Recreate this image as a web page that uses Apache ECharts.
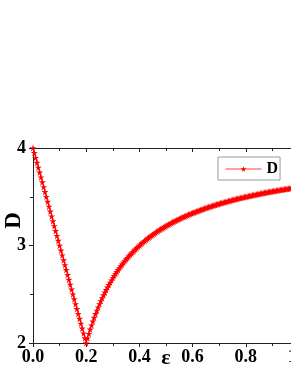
<!DOCTYPE html>
<html><head><meta charset="utf-8">
<script src="https://cdn.jsdelivr.net/npm/echarts@6/dist/echarts.min.js"></script>
<style>html,body{margin:0;padding:0;background:#fff}#c{width:291px;height:376px}</style>
</head><body><div id="c"></div>
<script>
var eps = [
0,0.005,0.01,0.015,0.02,0.025,0.03,0.035,0.04,0.045,0.05,0.055,0.06,0.065,0.07,0.075,0.08,0.085,0.09,0.095,
0.1,0.105,0.11,0.115,0.12,0.125,0.13,0.135,0.14,0.145,0.15,0.155,0.16,0.165,0.17,0.175,0.18,0.185,0.19,0.195,
0.2,0.205,0.21,0.215,0.22,0.225,0.23,0.235,0.24,0.245,0.25,0.255,0.26,0.265,0.27,0.275,0.28,0.285,0.29,0.295,
0.3,0.305,0.31,0.315,0.32,0.325,0.33,0.335,0.34,0.345,0.35,0.355,0.36,0.365,0.37,0.375,0.38,0.385,0.39,0.395,
0.4,0.405,0.41,0.415,0.42,0.425,0.43,0.435,0.44,0.445,0.45,0.455,0.46,0.465,0.47,0.475,0.48,0.485,0.49,0.495,
0.5,0.505,0.51,0.515,0.52,0.525,0.53,0.535,0.54,0.545,0.55,0.555,0.56,0.565,0.57,0.575,0.58,0.585,0.59,0.595,
0.6,0.605,0.61,0.615,0.62,0.625,0.63,0.635,0.64,0.645,0.65,0.655,0.66,0.665,0.67,0.675,0.68,0.685,0.69,0.695,
0.7,0.705,0.71,0.715,0.72,0.725,0.73,0.735,0.74,0.745,0.75,0.755,0.76,0.765,0.77,0.775,0.78,0.785,0.79,0.795,
0.8,0.805,0.81,0.815,0.82,0.825,0.83,0.835,0.84,0.845,0.85,0.855,0.86,0.865,0.87,0.875,0.88,0.885,0.89,0.895,
0.9,0.905,0.91,0.915,0.92,0.925,0.93,0.935,0.94,0.945,0.95,0.955,0.96,0.965,0.97,0.975,0.98,0.985,0.99,0.995,
1
];
var D = [
4,3.95,3.9,3.85,3.8,3.75,3.7,3.65,3.6,3.55,3.5,3.45,3.4,3.35,3.3,3.25,3.2,3.15,3.1,3.05,
3,2.95,2.9,2.85,2.8,2.75,2.7,2.65,2.6,2.55,2.5,2.45,2.4,2.35,2.3,2.25,2.2,2.15,2.1,2.05,
2,2.049,2.095,2.140,2.182,2.222,2.261,2.298,2.333,2.367,2.400,2.431,2.462,2.491,2.519,2.545,2.571,2.596,2.621,2.644,
2.667,2.689,2.710,2.730,2.750,2.769,2.788,2.806,2.824,2.841,2.857,2.873,2.889,2.904,2.919,2.933,2.947,2.961,2.974,2.987,
3.000,3.012,3.024,3.036,3.048,3.059,3.070,3.080,3.091,3.101,3.111,3.121,3.130,3.140,3.149,3.158,3.167,3.175,3.184,3.192,
3.200,3.208,3.216,3.223,3.231,3.238,3.245,3.252,3.259,3.266,3.273,3.279,3.286,3.292,3.298,3.304,3.310,3.316,3.322,3.328,
3.333,3.339,3.344,3.350,3.355,3.360,3.365,3.370,3.375,3.380,3.385,3.389,3.394,3.398,3.403,3.407,3.412,3.416,3.420,3.424,
3.429,3.433,3.437,3.441,3.444,3.448,3.452,3.456,3.459,3.463,3.467,3.470,3.474,3.477,3.481,3.484,3.487,3.490,3.494,3.497,
3.500,3.503,3.506,3.509,3.512,3.515,3.518,3.521,3.524,3.527,3.529,3.532,3.535,3.538,3.540,3.543,3.545,3.548,3.551,3.553,
3.556,3.558,3.560,3.563,3.565,3.568,3.570,3.572,3.574,3.577,3.579,3.581,3.583,3.585,3.588,3.590,3.592,3.594,3.596,3.598,
3.600
];
var seriesName = 'D';
var xName = 'ε';
var yName = 'D';

var STAR = 'path://M0,-1L0.224,-0.309L0.951,-0.309L0.363,0.118L0.588,0.809L0,0.382L-0.588,0.809L-0.363,0.118L-0.951,-0.309L-0.224,-0.309Z';
var FONT = '"Liberation Serif","Times New Roman",serif';
var AX = '#222';
var pts = eps.map(function (e, i) { return [e, D[i]]; });

var chart = echarts.init(document.getElementById('c'), null, {renderer: 'canvas'});
chart.setOption({
  animation: false,
  backgroundColor: '#fff',
  grid: {left: 33, top: 148, width: 266, height: 195, containLabel: false, outerBoundsMode: 'none'},
  legend: {
    left: 218, top: 157,
    data: [{name: seriesName}],
    itemWidth: 36, itemHeight: 7, itemGap: 0,
    padding: [4, 2, 3, 7],
    borderColor: '#999', borderWidth: 1,
    lineStyle: {width: 1, color: '#ff4040'},
    textStyle: {fontFamily: FONT, fontWeight: 'bold', fontSize: 16, color: '#000', padding: [0, 0, 0, 0]}
  },
  xAxis: [{
    type: 'value', min: 0, max: 1, interval: 0.2,
    name: xName, nameLocation: 'middle', nameGap: 4, nameMoveOverlap: false,
    nameTextStyle: {fontFamily: FONT, fontWeight: 'bold', fontSize: 22, color: '#000'},
    axisLine: {lineStyle: {color: AX, width: 1}},
    axisTick: {show: true, inside: false, length: 4, lineStyle: {color: AX}},
    minorTick: {show: true, splitNumber: 2, length: 3, lineStyle: {color: AX}},
    splitLine: {show: false},
    axisLabel: {margin: 5, fontFamily: FONT, fontWeight: 'bold', fontSize: 18, color: '#000',
      formatter: function (v) { return v.toFixed(1); }}
  }, {
    type: 'value', position: 'top', min: 0, max: 1, interval: 0.2,
    axisLine: {show: true, lineStyle: {color: AX, width: 1}},
    axisTick: {show: true, inside: true, length: 4, lineStyle: {color: AX}},
    minorTick: {show: true, splitNumber: 2, length: 3, lineStyle: {color: AX}},
    splitLine: {show: false}, axisLabel: {show: false}
  }],
  yAxis: [{
    type: 'value', min: 2, max: 4, interval: 1,
    name: yName, nameLocation: 'middle', nameGap: 7, nameRotate: 90, nameMoveOverlap: false,
    nameTextStyle: {fontFamily: FONT, fontWeight: 'bold', fontSize: 23, color: '#000', padding: [0, 0, 0, 50]},
    axisLine: {show: true, lineStyle: {color: AX, width: 1}},
    axisTick: {show: true, inside: false, length: 4, lineStyle: {color: AX}},
    minorTick: {show: true, splitNumber: 2, length: 3, lineStyle: {color: AX}},
    splitLine: {show: false},
    axisLabel: {margin: 7, fontFamily: FONT, fontWeight: 'bold', fontSize: 18, color: '#000'}
  }, {
    type: 'value', position: 'right', min: 2, max: 4, interval: 1,
    axisLine: {show: true, lineStyle: {color: AX, width: 1}},
    axisTick: {show: true, inside: true, length: 4}, splitLine: {show: false}, axisLabel: {show: false}
  }],
  series: [{
    name: seriesName, type: 'line', xAxisIndex: 0, yAxisIndex: 0,
    data: pts, symbol: STAR, symbolSize: 7, showAllSymbol: true,
    lineStyle: {color: '#ff0000', width: 1},
    itemStyle: {color: '#ff0000', borderWidth: 0},
    clip: true
  }]
});
</script></body></html>
